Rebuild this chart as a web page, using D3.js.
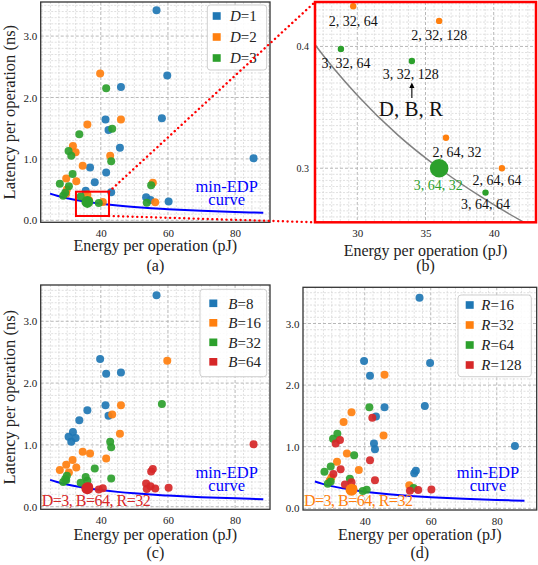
<!DOCTYPE html>
<html>
<head>
<meta charset="UTF-8">
<script src="https://cdn.jsdelivr.net/npm/d3@7"></script>
<style>
  body { margin: 0; background: #fff; }
  svg { display: block; font-family: "Liberation Serif", "Times New Roman", serif; }
</style>
</head>
<body>
<svg id="chart" width="538" height="565"></svg>
<script>
// ---- data: one entry per design point (D, B, R) ----
const energy = [
  56.6, 46.0, 41.4, 42.3, 39.8, 36.0, 31.7, 32.5, 41.6, 33.6, 30.4, 31.2,
  59.8, 45.7, 36.8, 41.6, 46.0, 34.6, 29.7, 32.7, 43.4, 31.6, 27.8, 30.5,
  58.2, 38.2, 35.5, 43.1, 42.8, 29.9, 29.7, 36.0, 43.1, 29.4, 28.8, 34.0,
  85.5, 53.5, 54.8, 60.2, 55.5, 36.5, 40.6, 56.2, 55.0, 36.0, 39.4, 53.7
];
const latency = [
  3.42, 2.17, 1.64, 1.47, 2.39, 1.56, 1.21, 1.11, 2.15, 1.40, 1.13, 1.05,
  2.36, 1.18, 0.86, 0.78, 1.64, 0.89, 0.68, 0.635, 1.49, 0.755, 0.595, 0.555,
  1.66, 0.62, 0.48, 0.455, 1.05, 0.50, 0.433, 0.421, 0.96, 0.45, 0.398, 0.388,
  1.01, 0.375, 0.33, 0.305, 0.61, 0.325, 0.30, 0.295, 0.57, 0.30, 0.28, 0.285
];
const dVals = [
  1, 1, 1, 1, 2, 2, 2, 2, 3, 3, 3, 3,
  1, 1, 1, 1, 2, 2, 2, 2, 3, 3, 3, 3,
  1, 1, 1, 1, 2, 2, 2, 2, 3, 3, 3, 3,
  1, 1, 1, 1, 2, 2, 2, 2, 3, 3, 3, 3
];
const bVals = [
  8, 8, 8, 8, 8, 8, 8, 8, 8, 8, 8, 8,
  16, 16, 16, 16, 16, 16, 16, 16, 16, 16, 16, 16,
  32, 32, 32, 32, 32, 32, 32, 32, 32, 32, 32, 32,
  64, 64, 64, 64, 64, 64, 64, 64, 64, 64, 64, 64
];
const rVals = [
  16, 32, 64, 128, 16, 32, 64, 128, 16, 32, 64, 128,
  16, 32, 64, 128, 16, 32, 64, 128, 16, 32, 64, 128,
  16, 32, 64, 128, 16, 32, 64, 128, 16, 32, 64, 128,
  16, 32, 64, 128, 16, 32, 64, 128, 16, 32, 64, 128
];
const dLevels = [1, 2, 3];
const bLevels = [8, 16, 32, 64];
const rLevels = [16, 32, 64, 128];
const best = { d: 3, b: 64, r: 32 };

// min-EDP curve
const curveE = [24.9, 27, 30, 33, 36, 39, 42, 45, 50, 55, 60, 70, 80, 88.4];
const curveL = [0.434, 0.400, 0.360, 0.327, 0.300, 0.277, 0.257, 0.240, 0.216, 0.196, 0.180, 0.154, 0.135, 0.122];

const xTicksMain = [40, 60, 80];
const yTicksMain = [0, 1, 2, 3];
const xTicksZoom = [30, 35, 40];
const yTicksZoom = [0.3, 0.4];
// zoomed region marked in (a)
const zoomBox = { e0: 32.6, e1: 42.45, l0: 0.07, l1: 0.466 };

// ---- layout ----
const tab = ["#1f77b4", "#ff7f0e", "#2ca02c", "#d62728"];
const panels = {
  a: { x0: 40.7, x1: 270, y0: 2, y1: 222.3, xd: [22.1, 90.4], yd: [-0.0326, 3.555] },
  b: { x0: 315, x1: 536, y0: 2, y1: 222.3, xd: [26.9, 43.1], yd: [0.2556, 0.4365] },
  c: { x0: 40.7, x1: 270, y0: 285, y1: 509.3, xd: [22.1, 90.4], yd: [-0.042, 3.587] },
  d: { x0: 303, x1: 536.7, y0: 287.3, y1: 510, xd: [21.3, 92.1], yd: [-0.028, 3.588] }
};
const labelOffsets = {
  "2, 32, 64": [0, 15], "2, 32, 128": [0, 14], "3, 32, 64": [5, 14], "3, 32, 128": [-1, 13],
  "2, 64, 32": [11, 14], "3, 64, 32": [-1, 17], "2, 64, 64": [-5, 12], "3, 64, 64": [0, 12]
};

const svg = d3.select("#chart");
const pts = energy.map((e, i) => ({ e, l: latency[i], d: dVals[i], b: bVals[i], r: rVals[i] }));
const isBest = p => p.d === best.d && p.b === best.b && p.r === best.r;

function scales(p) {
  return {
    x: d3.scaleLinear().domain(p.xd).range([p.x0, p.x1]),
    y: d3.scaleLinear().domain(p.yd).range([p.y1, p.y0])
  };
}

function near(v, step) { return Math.abs(v / step - Math.round(v / step)) < 1e-6; }

function drawGrid(p, s, xStep, yStep, xMaj, yMaj) {
  const g = svg.append("g");
  const xs = d3.range(Math.ceil(p.xd[0] / xStep), Math.floor(p.xd[1] / xStep) + 1).map(k => k * xStep);
  const ys = d3.range(Math.ceil(p.yd[0] / yStep), Math.floor(p.yd[1] / yStep) + 1).map(k => k * yStep);
  xs.forEach(v => {
    const maj = near(v, xMaj);
    g.append("line").attr("x1", s.x(v)).attr("x2", s.x(v)).attr("y1", p.y0).attr("y2", p.y1)
      .attr("stroke", maj ? "#b0b0b0" : "#d2d2d2").attr("stroke-width", maj ? 0.9 : 0.7)
      .attr("stroke-dasharray", maj ? "3,2" : "2,1.5");
  });
  ys.forEach(v => {
    const maj = near(v, yMaj);
    g.append("line").attr("y1", s.y(v)).attr("y2", s.y(v)).attr("x1", p.x0).attr("x2", p.x1)
      .attr("stroke", maj ? "#b0b0b0" : "#d2d2d2").attr("stroke-width", maj ? 0.9 : 0.7)
      .attr("stroke-dasharray", maj ? "3,2" : "2,1.5");
  });
}

function drawAxes(p, s, xt, yt, fs, showY) {
  const ax = svg.append("g").attr("transform", `translate(0,${p.y1})`)
    .call(d3.axisBottom(s.x).tickValues(xt).tickSize(0).tickPadding(7).tickFormat(d3.format("d")));
  ax.select(".domain").remove();
  ax.selectAll("text").attr("font-size", fs).attr("font-family", "Liberation Serif").attr("fill", "#222");
  if (showY) {
    const ay = svg.append("g").attr("transform", `translate(${p.x0},0)`)
      .call(d3.axisLeft(s.y).tickValues(yt).tickSize(0).tickPadding(3.5).tickFormat(d3.format(".1f")));
    ay.select(".domain").remove();
    ay.selectAll("text").attr("font-size", fs).attr("font-family", "Liberation Serif").attr("fill", "#222");
  }
}

function clipFor(id, p) {
  svg.append("clipPath").attr("id", id).append("rect")
    .attr("x", p.x0).attr("y", p.y0).attr("width", p.x1 - p.x0).attr("height", p.y1 - p.y0);
}

function drawCurve(p, s, id, color, w) {
  const line = d3.line().x((d, i) => s.x(curveE[i])).y((d, i) => s.y(curveL[i])).curve(d3.curveMonotoneX);
  svg.append("path").datum(curveE).attr("d", line).attr("fill", "none")
    .attr("stroke", color).attr("stroke-width", w).attr("clip-path", `url(#${id})`);
}

function drawFrame(p, color, w) {
  svg.append("rect").attr("x", p.x0).attr("y", p.y0).attr("width", p.x1 - p.x0).attr("height", p.y1 - p.y0)
    .attr("fill", "none").attr("stroke", color).attr("stroke-width", w);
}

function drawLegend(bx, levels, key, name) {
  const g = svg.append("g");
  g.append("rect").attr("x", bx.x).attr("y", bx.y).attr("width", bx.w).attr("height", bx.h)
    .attr("rx", 3).attr("fill", "#fff").attr("fill-opacity", 0.85).attr("stroke", "#cfcfcf");
  levels.forEach((v, i) => {
    const cy = bx.row0 + i * bx.dy;
    g.append("rect").attr("x", bx.sx - 4).attr("y", cy - 3.8).attr("width", 8).attr("height", 7.6)
      .attr("fill", tab[i]);
    const t = g.append("text").attr("x", bx.tx).attr("y", cy).attr("dy", "0.35em")
      .attr("font-size", 15).attr("fill", "#222");
    t.append("tspan").attr("font-style", "italic").text(name);
    t.append("tspan").text("=" + v);
  });
}

function drawMain(id, key, levels, name, opts) {
  const p = panels[id];
  const s = scales(p);
  drawGrid(p, s, 2.5, 0.1, 20, 1);
  clipFor("clip-" + id, p);
  drawAxes(p, s, xTicksMain, yTicksMain, 11, true);
  drawCurve(p, s, "clip-" + id, "#0000ff", 2);
  const g = svg.append("g").attr("clip-path", `url(#clip-${id})`);
  levels.forEach((v, i) => {
    g.selectAll(null).data(pts.filter(q => q[key] === v && !isBest(q))).enter().append("circle")
      .attr("cx", q => s.x(q.e)).attr("cy", q => s.y(q.l)).attr("r", 4)
      .attr("fill", tab[i]).attr("fill-opacity", 0.92);
  });
  pts.filter(isBest).forEach(q => {
    g.append("circle").attr("cx", s.x(q.e)).attr("cy", s.y(q.l)).attr("r", 6)
      .attr("fill", tab[levels.indexOf(q[key])]);
  });
  drawFrame(p, "#333", 1.3);
  // min-EDP text
  const mx = opts.edpX;
  svg.append("text").attr("x", mx).attr("y", opts.edpY).attr("text-anchor", "middle").attr("dy", "0.35em")
    .attr("font-size", 16.5).attr("fill", "#0000ff").text("min-EDP");
  svg.append("text").attr("x", mx).attr("y", opts.edpY + 12.8).attr("text-anchor", "middle").attr("dy", "0.35em")
    .attr("font-size", 16.5).attr("fill", "#0000ff").text("curve");
  drawLegend(opts.legend, levels, key, name);
  // axis labels
  const cx = (p.x0 + p.x1) / 2;
  svg.append("text").attr("x", cx).attr("y", opts.xlabY).attr("text-anchor", "middle").attr("dy", "0.35em")
    .attr("font-size", 16).attr("fill", "#222").text("Energy per operation (pJ)");
  svg.append("text").attr("x", cx).attr("y", opts.capY).attr("text-anchor", "middle").attr("dy", "0.35em")
    .attr("font-size", 16).attr("fill", "#222").text(opts.cap);
  if (opts.ylab) {
    svg.append("text").attr("transform", `translate(9,${(p.y0 + p.y1) / 2}) rotate(-90)`)
      .attr("text-anchor", "middle").attr("dy", "0.35em").attr("font-size", 16.5).attr("fill", "#222")
      .text("Latency per operation (ns)");
  }
  if (opts.bestColor) {
    svg.append("text").attr("x", p.x0 + 1).attr("y", 500).attr("dy", "0.35em")
      .attr("font-size", 16).attr("letter-spacing", -0.5).attr("fill", opts.bestColor)
      .text("D=3, B=64, R=32");
  }
  return s;
}

// (a) colour by D
const sa = drawMain("a", "d", dLevels, "D", {
  edpX: 226.7, edpY: 186.7, xlabY: 245, capY: 265.5, cap: "(a)", ylab: true,
  legend: { x: 207.3, y: 5, w: 59.4, h: 65, row0: 16, dy: 21, sx: 216.7, tx: 230 }
});
// (c) colour by B
drawMain("c", "b", bLevels, "B", {
  edpX: 226.7, edpY: 472.7, xlabY: 534, capY: 552.5, cap: "(c)", ylab: true, bestColor: tab[3],
  legend: { x: 200, y: 289.3, w: 66.7, h: 87.4, row0: 303.3, dy: 19.5, sx: 213.3, tx: 228.3 }
});
// (d) colour by R
drawMain("d", "r", rLevels, "R", {
  edpX: 488, edpY: 472.7, xlabY: 534, capY: 552.5, cap: "(d)", ylab: false, bestColor: tab[1],
  legend: { x: 458, y: 295, w: 73.3, h: 81.7, row0: 305, dy: 20, sx: 469.7, tx: 481.3 }
});

// (b) zoomed view
(function () {
  const p = panels.b;
  const s = scales(p);
  drawGrid(p, s, 0.625, 0.005, 5, 0.1);
  clipFor("clip-b", p);
  drawAxes(p, s, xTicksZoom, [], 11, false);
  const ay = svg.append("g").attr("transform", `translate(${p.x0},0)`)
    .call(d3.axisLeft(s.y).tickValues(yTicksZoom).tickSize(0).tickPadding(6).tickFormat(d3.format(".1f")));
  ay.select(".domain").remove();
  ay.selectAll("text").attr("font-size", 10).attr("font-family", "Liberation Serif").attr("fill", "#222");
  drawCurve(p, s, "clip-b", "#808080", 1.5);
  const inView = pts.filter(q => q.e >= p.xd[0] && q.e <= p.xd[1] && q.l >= p.yd[0] && q.l <= p.yd[1]);
  const g = svg.append("g").attr("clip-path", "url(#clip-b)");
  inView.forEach(q => {
    g.append("circle").attr("cx", s.x(q.e)).attr("cy", s.y(q.l)).attr("r", isBest(q) ? 9.3 : 3.2)
      .attr("fill", tab[dLevels.indexOf(q.d)]);
  });
  inView.forEach(q => {
    const lab = `${q.d}, ${q.b}, ${q.r}`;
    const off = labelOffsets[lab] || [0, 13];
    svg.append("text").attr("x", s.x(q.e) + off[0]).attr("y", s.y(q.l) + off[1]).attr("dy", "0.35em")
      .attr("text-anchor", "middle").attr("font-size", 14)
      .attr("fill", isBest(q) ? tab[2] : "#111").text(lab);
    if (q.d === 3 && q.b === 32 && q.r === 128) {
      const ax0 = s.x(q.e), ay0 = s.y(q.l);
      svg.append("line").attr("x1", ax0).attr("x2", ax0).attr("y1", ay0 + 37).attr("y2", ay0 + 24)
        .attr("stroke", "#000").attr("stroke-width", 1.1);
      svg.append("path").attr("d", `M${ax0 - 2.6},${ay0 + 27} L${ax0},${ay0 + 21.5} L${ax0 + 2.6},${ay0 + 27} Z`)
        .attr("fill", "#000");
      svg.append("text").attr("x", ax0 - 1).attr("y", ay0 + 48).attr("dy", "0.35em").attr("text-anchor", "middle")
        .attr("font-size", 21).attr("fill", "#111").text("D, B, R");
    }
  });
  drawFrame(p, "#ff0000", 2.5);
  svg.append("text").attr("x", (p.x0 + p.x1) / 2).attr("y", 250).attr("text-anchor", "middle").attr("dy", "0.35em")
    .attr("font-size", 16).attr("fill", "#222").text("Energy per operation (pJ)");
  svg.append("text").attr("x", (p.x0 + p.x1) / 2).attr("y", 265.5).attr("text-anchor", "middle").attr("dy", "0.35em")
    .attr("font-size", 16).attr("fill", "#222").text("(b)");

  // zoom box in (a) and dotted connectors
  const bx0 = sa.x(zoomBox.e0), bx1 = sa.x(zoomBox.e1), by0 = sa.y(zoomBox.l1), by1 = sa.y(zoomBox.l0);
  svg.append("rect").attr("x", bx0).attr("y", by0).attr("width", bx1 - bx0).attr("height", by1 - by0)
    .attr("fill", "none").attr("stroke", "#ff0000").attr("stroke-width", 2);
  [[bx1, by0, p.x0, p.y0], [bx1, by1, p.x0, p.y1]].forEach(c => {
    svg.append("line").attr("x1", c[0]).attr("y1", c[1]).attr("x2", c[2]).attr("y2", c[3])
      .attr("stroke", "#ff0000").attr("stroke-width", 2.4).attr("stroke-linecap", "round")
      .attr("stroke-dasharray", "0.1,4.6");
  });
})();
</script>
</body>
</html>
